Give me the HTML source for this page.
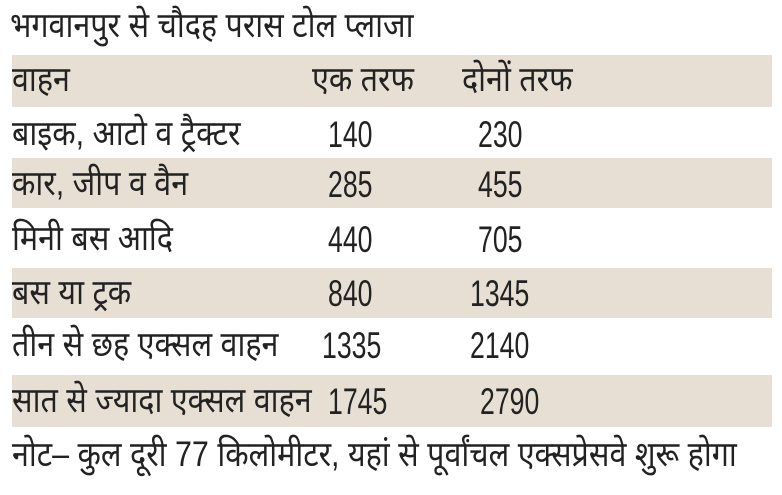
<!DOCTYPE html>
<html><head><meta charset="utf-8"><style>
body{margin:0;width:782px;height:495px;background:#fff;overflow:hidden;position:relative;font-family:"Liberation Sans","Noto Sans CJK SC",sans-serif;color:#222}
.b{position:absolute;left:12px;width:760px;background:#e7dfd3}
.t{position:absolute;font-size:35px;line-height:1;white-space:nowrap;transform-origin:left center;transform:scaleX(.87)}
.n{position:absolute;font-size:37px;line-height:1;white-space:nowrap;transform-origin:left center;transform:scaleX(.72)}
</style></head><body>
<div class="b" style="top:55px;height:52px"></div>
<div class="b" style="top:158px;height:50px"></div>
<div class="b" style="top:268px;height:50px"></div>
<div class="b" style="top:375px;height:52px"></div>

<div class="t" style="left:10px;top:8px">भगवानपुर से चौदह परास टोल प्लाजा</div>

<div class="t" style="left:12px;top:62px">वाहन</div>
<div class="t" style="left:312px;top:62px">एक तरफ</div>
<div class="t" style="left:462px;top:62px">दोनों तरफ</div>

<div class="t" style="left:12px;top:116px">बाइक, आटो व ट्रैक्टर</div>
<div class="n" style="left:328px;top:116px">140</div>
<div class="n" style="left:478px;top:116px">230</div>

<div class="t" style="left:12px;top:166px">कार, जीप व वैन</div>
<div class="n" style="left:328px;top:166px">285</div>
<div class="n" style="left:478px;top:166px">455</div>

<div class="t" style="left:12px;top:221px">मिनी बस आदि</div>
<div class="n" style="left:328px;top:221px">440</div>
<div class="n" style="left:478px;top:221px">705</div>

<div class="t" style="left:12px;top:275px">बस या ट्रक</div>
<div class="n" style="left:328px;top:275px">840</div>
<div class="n" style="left:470px;top:275px">1345</div>

<div class="t" style="left:12px;top:327px">तीन से छह एक्सल वाहन</div>
<div class="n" style="left:322px;top:327px">1335</div>
<div class="n" style="left:470px;top:327px">2140</div>

<div class="t" style="left:12px;top:383px">सात से ज्यादा एक्सल वाहन</div>
<div class="n" style="left:328px;top:383px">1745</div>
<div class="n" style="left:480px;top:383px">2790</div>

<div class="t" style="left:12px;top:437px">नोट– कुल दूरी 77 किलोमीटर, यहां से पूर्वांचल एक्सप्रेसवे शुरू होगा</div>
</body></html>
